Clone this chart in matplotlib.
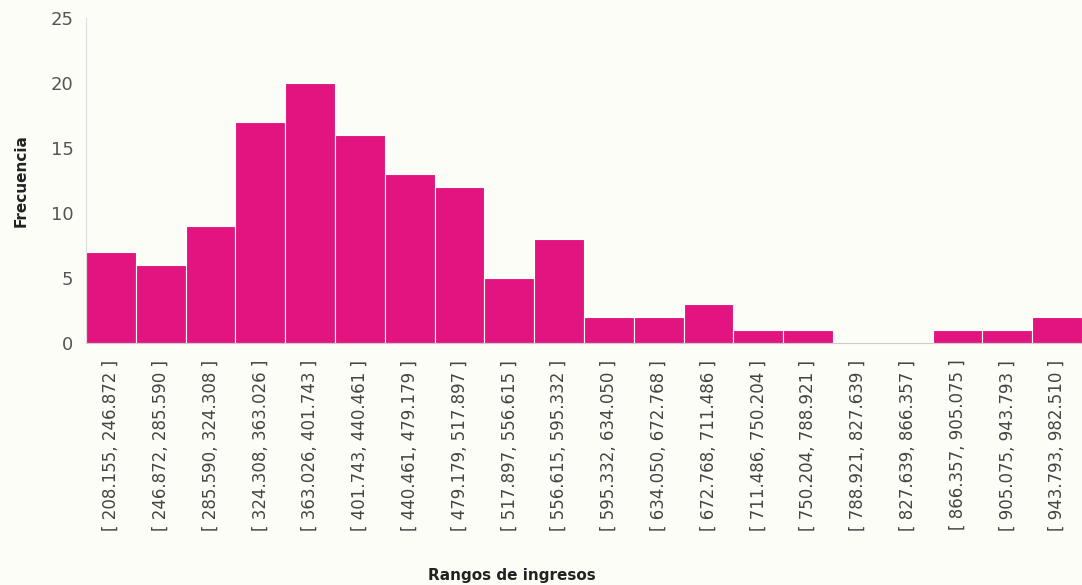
import matplotlib.pyplot as plt

# límites de los rangos de ingresos
bordes = [208.155, 246.872, 285.590, 324.308, 363.026, 401.743, 440.461,
          479.179, 517.897, 556.615, 595.332, 634.050, 672.768, 711.486,
          750.204, 788.921, 827.639, 866.357, 905.075, 943.793, 982.510]
frecuencias = [7, 6, 9, 17, 20, 16, 13, 12, 5, 8, 2, 2, 3, 1, 1, 0, 0, 1, 1, 2]
etiquetas = ["[ %.3f, %.3f ]" % (a, b) for a, b in zip(bordes[:-1], bordes[1:])]

fondo = '#fdfdf7'
fig = plt.figure(figsize=(10.82, 5.85), dpi=100, facecolor=fondo)
ax = fig.add_axes([0.0795, 0.4137, 0.9205, 0.555], facecolor=fondo)

x = list(range(len(frecuencias)))
ax.bar(x, frecuencias, width=1.0, color='#e2147f', edgecolor='white', linewidth=0.8)

ax.set_xlim(-0.5, len(frecuencias) - 0.5)
ax.set_ylim(0, 25)
ax.set_yticks([0, 5, 10, 15, 20, 25])
ax.set_xticks(x)
ax.set_xticklabels(etiquetas, rotation=90, fontsize=12, color='#444444')
ax.tick_params(axis='y', labelsize=13, colors='#555555', length=0, pad=9)
ax.tick_params(axis='x', length=0, pad=12)

for s in ['top', 'right']:
    ax.spines[s].set_visible(False)
ax.spines['left'].set_color('#dddddd')
ax.spines['bottom'].set_color('#cccccc')

ax.set_ylabel('Frecuencia', fontsize=11, fontweight='bold', color='#222222', labelpad=16)
fig.text(0.473, 0.008, 'Rangos de ingresos', fontsize=11, fontweight='bold',
         color='#222222', ha='center')

fig.savefig('out.png', dpi=100, facecolor=fondo)
